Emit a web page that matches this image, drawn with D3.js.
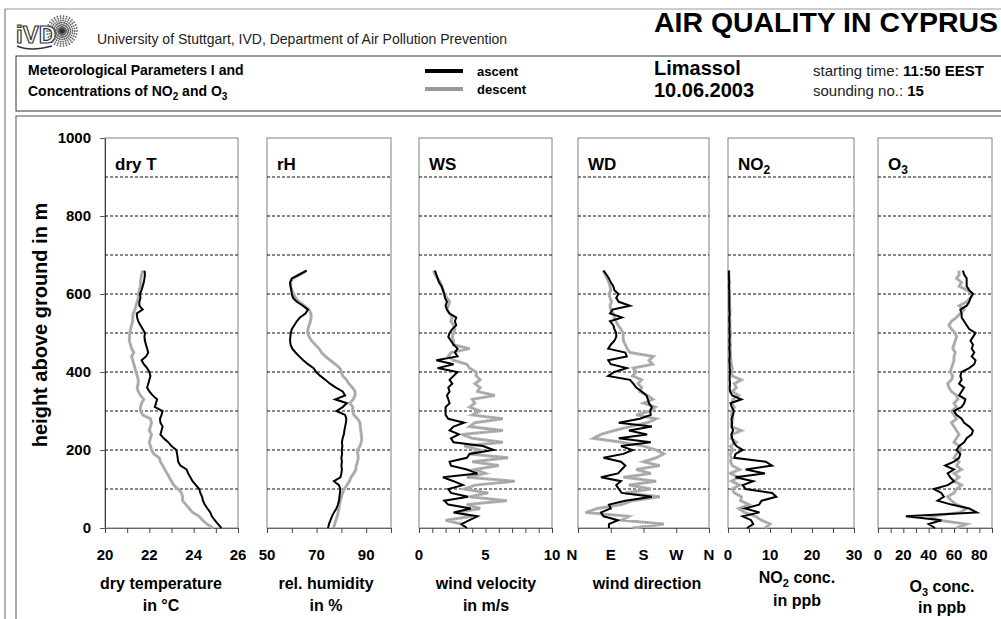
<!DOCTYPE html>
<html>
<head>
<meta charset="utf-8">
<script src="https://cdn.jsdelivr.net/npm/d3@7/dist/d3.min.js"></script>
<style>
  body { margin: 0; background: #fff; }
  svg { display: block; font-family: "Liberation Sans", Arial, sans-serif; }
</style>
</head>
<body>
<svg id="chart" width="1001" height="619"></svg>
<script>
// sounding levels, m above ground
const heights = [
    0, 10, 20, 30, 40, 50, 60, 70, 80, 90,
    100, 110, 120, 130, 140, 150, 160, 170, 180, 190,
    200, 210, 220, 230, 240, 250, 260, 270, 280, 290,
    300, 310, 320, 330, 340, 350, 360, 370, 380, 390,
    400, 410, 420, 430, 440, 450, 460, 470, 480, 490,
    500, 510, 520, 530, 540, 550, 560, 570, 580, 590,
    600, 610, 620, 630, 640, 650, 660
]

// dry temperature, °C
const dryTAsc = [
    25.25, 25.1, 24.95, 24.82, 24.75, 24.62, 24.5, 24.42, 24.38, 24.3,
    24.25, 24.1, 23.95, 23.85, 23.75, 23.68, 23.4, 23.3, 23.28, 23.25,
    23.22, 23.0, 22.85, 22.65, 22.5, 22.55, 22.6, 22.5, 22.48, 22.55,
    22.6, 22.25, 22.3, 22.35, 22.15, 22.0, 21.9, 21.95, 22.0, 22.05,
    22.0, 21.9, 21.75, 21.65, 21.85, 21.95, 21.9, 21.85, 21.8, 21.78,
    21.8, 21.7, 21.6, 21.5, 21.45, 21.43, 21.7, 21.55, 21.55, 21.6,
    21.58, 21.65, 21.7, 21.75, 21.78, 21.8, 21.78
]
const dryTDesc = [
    24.88, 24.6, 24.4, 24.25, 23.95, 23.8, 23.65, 23.5, 23.5, 23.45,
    23.3, 23.1, 23.0, 22.9, 22.8, 22.7, 22.6, 22.5, 22.45, 22.2,
    22.1, 22.05, 22.0, 22.05, 22.1, 22.0, 22.05, 22.1, 22.05, 21.7,
    21.6, 21.6, 21.65, 21.75, 21.6, 21.5, 21.45, 21.5, 21.5, 21.45,
    21.4, 21.35, 21.3, 21.25, 21.2, 21.3, 21.2, 21.15, 21.1, 21.1,
    21.12, 21.15, 21.2, 21.25, 21.25, 21.27, 21.35, 21.4, 21.45, 21.5,
    21.5, 21.55, 21.6, 21.6, 21.62, 21.65, 21.7
]

// relative humidity, %
const rhAsc = [
    74.6, 75.0, 75.6, 76.2, 77.0, 78.0, 78.6, 79.0, 79.2, 79.4,
    79.6, 79.0, 77.0, 79.6, 80.0, 80.2, 80.0, 80.2, 80.0, 80.3,
    80.1, 80.4, 80.2, 80.5, 81.0, 81.2, 81.5, 81.8, 82.0, 81.5,
    78.0, 80.5, 82.2, 77.5, 81.5, 80.5, 77.8, 75.4, 73.5, 71.5,
    69.8, 68.8, 66.5, 64.6, 63.0, 61.5, 60.2, 59.5, 59.3, 59.4,
    59.6, 60.0, 61.0, 62.0, 63.3, 65.5, 66.5, 64.5, 62.0, 60.5,
    60.0, 59.8, 59.5, 59.3, 60.0, 63.0, 66.0
]
const rhDesc = [
    76.8, 77.3, 77.8, 78.3, 78.7, 79.0, 79.2, 79.6, 80.0, 80.5,
    81.2, 82.2, 83.2, 83.9, 85.0, 85.8, 86.0, 86.5, 86.8, 86.6,
    86.5, 87.5, 88.0, 88.2, 88.0, 87.8, 87.6, 87.5, 86.5, 85.0,
    84.5, 84.6, 83.4, 84.8, 85.5, 85.5, 84.5, 83.0, 82.1, 80.5,
    80.0, 79.4, 77.5, 75.5, 73.5, 72.0, 71.0, 69.5, 68.0, 67.0,
    66.4, 66.5, 67.0, 67.5, 67.8, 67.7, 67.0, 65.0, 63.0, 61.5,
    60.7, 60.0, 59.5, 59.5, 60.5, 63.5, 66.0
]

// wind velocity, m/s
const wsAsc = [
    3.6, 3.2, 3.8, 4.4, 2.6, 3.9, 2.2, 1.9, 3.7, 2.4,
    2.2, 3.3, 2.6, 1.8, 4.4, 3.6, 2.4, 2.3, 3.6, 3.8,
    5.6, 4.8, 2.6, 2.4, 3.0, 2.3, 2.6, 3.4, 2.2, 2.0,
    2.0, 2.0, 2.3, 2.2, 2.1, 2.3, 2.2, 2.5, 2.3, 2.6,
    2.9, 1.4, 2.6, 1.3, 2.9, 2.7, 2.9, 2.6, 2.4, 2.2,
    2.3, 2.5, 2.8, 2.7, 2.8, 2.3, 2.1, 2.0, 2.1, 1.95,
    1.9, 1.8, 1.7, 1.5, 1.4, 1.3, 1.2
]
const wsDesc = [
    3.5, 3.2, 2.0, 4.0, 2.8, 4.6, 3.6, 6.6, 3.8, 5.2,
    3.4, 4.2, 7.2, 3.6, 5.0, 4.2, 6.0, 4.0, 6.7, 3.8,
    4.6, 3.4, 6.3, 4.0, 3.2, 6.3, 3.8, 4.2, 6.3, 4.0,
    4.6, 3.8, 4.2, 4.0, 5.7, 4.4, 4.6, 4.2, 4.6, 4.3,
    4.3, 3.8, 3.6, 2.6, 2.2, 2.4, 3.8, 2.6, 2.6, 2.5,
    2.6, 2.7, 2.6, 2.4, 2.5, 2.3, 2.1, 2.2, 2.3, 2.1,
    1.9, 1.8, 1.7, 1.6, 1.4, 1.2, 1.1
]

// wind direction, degrees
const wdAsc = [
    85, 85, 110, 70, 63, 90, 85, 130, 203, 120,
    112, 105, 118, 63, 110, 120, 130, 118, 70, 125,
    150, 118, 200, 112, 190, 140, 203, 112, 170, 200,
    198, 203, 195, 192, 188, 175, 160, 152, 143, 83,
    100, 134, 90, 83, 134, 130, 83, 90, 100, 105,
    105, 100, 97, 88, 121, 88, 95, 143, 112, 105,
    111, 100, 97, 90, 85, 78, 70
]
const wdDesc = [
    150, 236, 120, 140, 21, 53, 120, 150, 225, 130,
    200, 140, 215, 125, 200, 160, 225, 180, 215, 236,
    214, 180, 120, 42, 63, 100, 142, 190, 215, 160,
    200, 213, 180, 206, 190, 170, 175, 165, 175, 150,
    160, 152, 205, 195, 207, 143, 135, 130, 125, 124,
    124, 118, 110, 105, 100, 97, 90, 88, 92, 88,
    85, 90, 88, 85, 80, 75, 70
]

// NO2, ppb
const no2Asc = [
    4.5, 6.0, 5.5, 3.5, 7.5, 4.0, 7.4, 8.0, 11.5, 10.5,
    4.2, 3.5, 6.0, 1.8, 8.8, 4.2, 10.5, 9.0, 1.5, 1.8,
    3.5, 2.0, 1.3, 1.0, 0.8, 1.2, 0.9, 1.0, 0.8, 1.2,
    1.4, 0.9, 0.6, 3.2, 1.0, 0.5, 0.4, 0.5, 0.4, 0.4,
    0.5, 0.4, 0.4, 0.3, 0.4, 0.4, 0.3, 0.4, 0.3, 0.4,
    0.4, 0.3, 0.4, 0.3, 0.3, 0.4, 0.3, 0.3, 0.3, 0.3,
    0.3, 0.3, 0.2, 0.3, 0.2, 0.2, 0.2
]
const no2Desc = [
    8.8, 10.0, 8.0, 6.5, 4.0, 2.5, 5.0, 3.0, 3.2, 1.5,
    1.0, 2.8, 0.8, 2.6, 0.5, 2.8, 1.0, 0.6, 0.8, 0.5,
    1.2, 0.6, 2.0, 0.7, 1.0, 3.2, 0.8, 0.7, 1.2, 0.8,
    1.0, 1.5, 0.9, 1.2, 2.5, 1.0, 2.0, 1.5, 3.2, 1.0,
    0.9, 1.0, 0.8, 0.7, 0.6, 0.6, 0.5, 0.6, 0.5, 0.5,
    0.6, 0.5, 0.4, 0.5, 0.4, 0.4, 0.5, 0.4, 0.4, 0.4,
    0.3, 0.3, 0.3, 0.3, 0.3, 0.2, 0.2
]

// O3, ppb
const o3Asc = [
    45, 40, 50, 22, 78, 72, 58, 47, 52, 50,
    44, 55, 60, 57, 55, 60, 53, 60, 64, 65,
    62, 64, 68, 70, 74, 75, 72, 68, 66, 62,
    60, 66, 68, 69, 64, 66, 68, 64, 66, 65,
    66, 72, 76, 77, 74, 76, 74, 75, 73, 75,
    77, 72, 70, 68, 66, 66, 65, 70, 72, 73,
    75, 72, 70, 70, 70, 68, 67
]
const o3Desc = [
    62, 70, 48, 41, 65, 70, 62, 58, 55, 60,
    62, 66, 60, 64, 60, 66, 62, 64, 60, 62,
    66, 64, 60, 62, 64, 62, 60, 58, 62, 60,
    58, 62, 60, 63, 62, 58, 56, 55, 58, 59,
    57, 58, 59, 60, 60, 61, 59, 60, 61, 62,
    61, 58, 56, 58, 62, 65, 68, 64, 70, 73,
    75, 70, 64, 66, 62, 64, 64
]

// axis ticks and labels
const heightTicks = [0, 200, 400, 600, 800, 1000]
const gridLevels = [100, 200, 300, 400, 500, 600, 700, 800, 900]
const dryTTicks = [20, 21, 22, 23, 24, 25, 26]
const dryTLabels = [20, 22, 24, 26]
const rhTicks = [50, 60, 70, 80, 90, 100]
const rhLabels = [50, 70, 90]
const wsTicks = [0, 1, 2, 3, 4, 5, 6, 7, 8, 9, 10]
const wsLabels = [0, 5, 10]
const wdTicks = [0, 90, 180, 270, 360]
const wdLabels = ['N', 'E', 'S', 'W', 'N']
const no2Ticks = [0, 5, 10, 15, 20, 25, 30]
const no2Labels = [0, 10, 20, 30]
const o3Ticks = [0, 10, 20, 30, 40, 50, 60, 70, 80, 90]
const o3Labels = [0, 20, 40, 60, 80]

const panels = [
    { title: [['dry T']], left: 105, right: 238, domain: [20, 26], ticks: dryTTicks, labels: dryTLabels,
      asc: dryTAsc, desc: dryTDesc, caption: [[['dry temperature']], [['in °C']]], capX: 161, capY: [589, 611] },
    { title: [['rH']], left: 267, right: 391, domain: [50, 100], ticks: rhTicks, labels: rhLabels,
      asc: rhAsc, desc: rhDesc, caption: [[['rel. humidity']], [['in %']]], capX: 326, capY: [589, 611] },
    { title: [['WS']], left: 419, right: 552, domain: [0, 10], ticks: wsTicks, labels: wsLabels,
      asc: wsAsc, desc: wsDesc, caption: [[['wind velocity']], [['in m/s']]], capX: 486, capY: [589, 611] },
    { title: [['WD']], left: 578, right: 709, domain: [0, 360], ticks: wdTicks, labels: wdTicks, names: wdLabels,
      asc: wdAsc, desc: wdDesc, caption: [[['wind direction']]], capX: 647, capY: [589] },
    { title: [['NO'], ['2', true]], left: 728, right: 854, domain: [0, 30], ticks: no2Ticks, labels: no2Labels,
      asc: no2Asc, desc: no2Desc, caption: [[['NO'], ['2', true], [' conc.']], [['in ppb']]], capX: 797, capY: [583, 606] },
    { title: [['O'], ['3', true]], left: 878, right: 992, domain: [0, 90], ticks: o3Ticks, labels: o3Labels,
      asc: o3Asc, desc: o3Desc, caption: [[['O'], ['3', true], [' conc.']], [['in ppb']]], capX: 942, capY: [592, 613] }
]

const svg = d3.select('#chart')
const y = d3.scaleLinear().domain([0, 1000]).range([528, 138])

// write text parts, second item true means subscript
function richText(sel, parts, subSize) {
    let shifted = false
    parts.forEach(([txt, sub]) => {
        const t = sel.append('tspan').text(txt)
        if (sub && !shifted) { t.attr('dy', 4).attr('font-size', subSize); shifted = true }
        else if (!sub && shifted) { t.attr('dy', -4); shifted = false }
    })
    return sel
}

// ---- frame and header ----
svg.append('line').attr('x1', 5).attr('x2', 1001).attr('y1', 9).attr('y2', 9).attr('stroke', '#999')
svg.append('line').attr('x1', 5).attr('x2', 5).attr('y1', 9).attr('y2', 619).attr('stroke', '#666')
svg.append('rect').attr('x', 16).attr('y', 56).attr('width', 990).attr('height', 55)
    .attr('fill', 'none').attr('stroke', '#333')
svg.append('rect').attr('x', 16).attr('y', 116).attr('width', 990).attr('height', 520)
    .attr('fill', 'none').attr('stroke', '#555')

// logo: sunburst of dots plus outlined letters
const logo = svg.append('g')
d3.range(0, 360, 12).forEach(a => {
    d3.range(4, 16, 2.2).forEach(r => {
        logo.append('circle')
            .attr('cx', 62 + r * Math.cos(a * Math.PI / 180))
            .attr('cy', 31 + r * Math.sin(a * Math.PI / 180))
            .attr('r', 0.9).attr('fill', '#666')
    })
})
logo.append('circle').attr('cx', 62).attr('cy', 31).attr('r', 3).attr('fill', '#333')
logo.append('text').attr('x', 16).attr('y', 43).attr('font-size', 24).attr('font-weight', 'bold')
    .attr('fill', '#fff').attr('stroke', '#333').attr('stroke-width', 1.2).text('iVD')
logo.append('path').attr('d', 'M17,46 Q30,52 52,46').attr('fill', 'none').attr('stroke', '#333').attr('stroke-width', 1.5)

svg.append('text').attr('x', 97).attr('y', 44).attr('font-size', 14).attr('fill', '#222')
    .text('University of Stuttgart, IVD, Department of Air Pollution Prevention')
svg.append('text').attr('x', 654).attr('y', 32).attr('font-size', 28).attr('font-weight', 'bold')
    .attr('textLength', 344).attr('lengthAdjust', 'spacingAndGlyphs').text('AIR QUALITY IN CYPRUS')

svg.append('text').attr('x', 28).attr('y', 75).attr('font-size', 14).attr('font-weight', 'bold')
    .text('Meteorological Parameters I and')
richText(svg.append('text').attr('x', 28).attr('y', 96).attr('font-size', 14).attr('font-weight', 'bold'),
    [['Concentrations of NO'], ['2', true], [' and O'], ['3', true]], 10)

// legend
svg.append('line').attr('x1', 425).attr('x2', 463).attr('y1', 71).attr('y2', 71).attr('stroke', '#000').attr('stroke-width', 4)
svg.append('line').attr('x1', 425).attr('x2', 463).attr('y1', 89).attr('y2', 89).attr('stroke', '#999').attr('stroke-width', 4)
svg.append('text').attr('x', 477).attr('y', 76).attr('font-size', 13).attr('font-weight', 'bold').text('ascent')
svg.append('text').attr('x', 477).attr('y', 94).attr('font-size', 13).attr('font-weight', 'bold').text('descent')

svg.append('text').attr('x', 654).attr('y', 75).attr('font-size', 20).attr('font-weight', 'bold').text('Limassol')
svg.append('text').attr('x', 654).attr('y', 97).attr('font-size', 20).attr('font-weight', 'bold').text('10.06.2003')
const st = svg.append('text').attr('x', 813).attr('y', 76).attr('font-size', 15).attr('fill', '#222')
st.append('tspan').text('starting time: ')
st.append('tspan').attr('font-weight', 'bold').attr('fill', '#000').text('11:50 EEST')
const sn = svg.append('text').attr('x', 813).attr('y', 96).attr('font-size', 15).attr('fill', '#222')
sn.append('tspan').text('sounding no.: ')
sn.append('tspan').attr('font-weight', 'bold').attr('fill', '#000').text('15')

// ---- height axis ----
const yAxis = svg.append('g').attr('transform', 'translate(105,0)')
    .call(d3.axisLeft(y).tickValues(heightTicks).tickSize(5).tickSizeOuter(0).tickFormat(''))
yAxis.select('.domain').attr('stroke', '#000')
yAxis.selectAll('.tick line').attr('stroke', '#555')
heightTicks.forEach(h => {
    svg.append('text').attr('x', 91).attr('y', y(h) + 5).attr('text-anchor', 'end')
        .attr('font-size', 15).attr('font-weight', 'bold').text(h)
})
svg.append('text').attr('transform', 'translate(47,325) rotate(-90)').attr('text-anchor', 'middle')
    .attr('font-size', 20).attr('font-weight', 'bold').text('height above ground in m')

// ---- panels ----
panels.forEach((p, i) => {
    const x = d3.scaleLinear().domain(p.domain).range([p.left, p.right])
    const g = svg.append('g')

    g.append('rect').attr('x', p.left).attr('y', y(1000)).attr('width', p.right - p.left)
        .attr('height', y(0) - y(1000)).attr('fill', 'none').attr('stroke', '#808080')

    gridLevels.forEach(h => {
        g.append('line').attr('x1', p.left).attr('x2', p.right).attr('y1', y(h)).attr('y2', y(h))
            .attr('stroke', '#111').attr('stroke-dasharray', '3,2')
    })

    const ax = g.append('g').attr('transform', `translate(0,${y(0)})`)
        .call(d3.axisBottom(x).tickValues(p.ticks).tickSize(5).tickSizeOuter(0).tickFormat(''))
    ax.select('.domain').attr('stroke', '#666')
    ax.selectAll('.tick line').attr('stroke', '#444')

    p.labels.forEach((v, j) => {
        let lx = x(v)
        if (p.names && j === 0) lx -= 6
        g.append('text').attr('x', lx).attr('y', 560).attr('text-anchor', 'middle')
            .attr('font-size', 15).attr('font-weight', 'bold')
            .text(p.names ? p.names[j] : v)
    })

    richText(g.append('text').attr('x', p.left + 10).attr('y', 170).attr('font-size', 17).attr('font-weight', 'bold'),
        p.title, 12)

    p.caption.forEach((parts, k) => {
        richText(g.append('text').attr('x', p.capX).attr('y', p.capY[k]).attr('text-anchor', 'middle')
            .attr('font-size', 16).attr('font-weight', 'bold'), parts, 11)
    })

    const line = d3.line()
        .x(d => x(d[0]))
        .y(d => y(d[1]))

    // descent: light grey band with a darker dotted core, like the printed trace
    const descPts = d3.zip(p.desc, heights)
    g.append('path').datum(descPts).attr('d', line)
        .attr('fill', 'none').attr('stroke', '#b4b4b4').attr('stroke-width', 3)
    g.append('path').datum(descPts).attr('d', line)
        .attr('fill', 'none').attr('stroke', '#888').attr('stroke-width', 1).attr('stroke-dasharray', '1,1.5')
    g.append('path').datum(d3.zip(p.asc, heights)).attr('d', line)
        .attr('fill', 'none').attr('stroke', '#000').attr('stroke-width', 2)
})
</script>
</body>
</html>
